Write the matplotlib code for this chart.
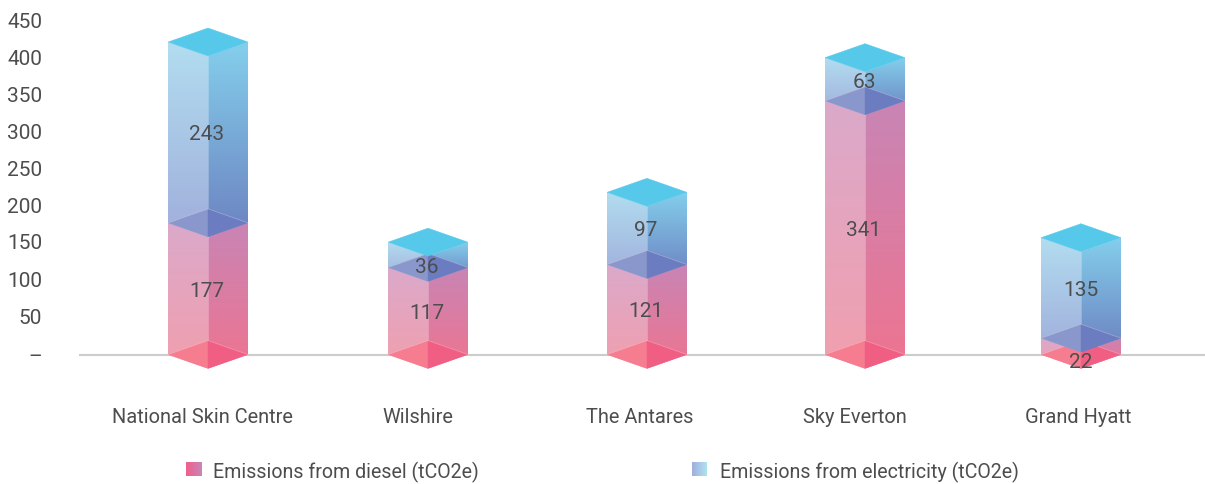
import numpy as np
import matplotlib
matplotlib.use("Agg")
import matplotlib.pyplot as plt
from matplotlib.patches import Polygon
from matplotlib.colors import to_rgb
from matplotlib.transforms import ScaledTranslation

categories = ["National Skin Centre", "Wilshire", "The Antares", "Sky Everton", "Grand Hyatt"]
diesel = [177, 117, 121, 341, 22]
electricity = [243, 36, 97, 63, 135]
# the drawn electricity segments (two differ from their printed labels)
electricity_drawn = [243, 34, 97, 58, 135]
y_ticks = [0, 50, 100, 150, 200, 250, 300, 350, 400, 450]
y_tick_labels = ["–", "50", "100", "150", "200", "250", "300", "350", "400", "450"]
series_names = ["Emissions from diesel (tCO2e)", "Emissions from electricity (tCO2e)"]

# layout (pixels of the 1205x485 figure)
W, H = 1205, 485
bar_x = [208, 428, 647, 865, 1081]
label_x = [202, 418, 639.5, 854.5, 1078.5]
half_w = 40
px_per_unit = 0.744
depth = 14 / px_per_unit
zero_px = 355.5
ax_top_px, ax_bot_px = 15, 385
value_dx = [-1, -1, -1, -1, 0]
diesel_label_py = [292, 314, 312, 231, 363]
elec_label_py = [135, 268, 231, 83, 291]
tick_label_up_px = [0, 2, 2, 2, 1, 1, 1, 0.5, 0, 0]

FONT = ["Roboto", "DejaVu Sans"]
TXT = "#4d4d4d"
FS_VAL = 15
FS_CAT = 14.4
FS_LEG = 14.1


def py_to_val(py):
    return (zero_px - py) / px_per_unit


plt.rcParams["font.family"] = FONT
fig = plt.figure(figsize=(W / 100, H / 100), dpi=100)
ax = fig.add_axes([79 / W, 1 - ax_bot_px / H, 1 - 79 / W, (ax_bot_px - ax_top_px) / H])
ax.set_xlim(79, W)
ax.set_ylim(py_to_val(ax_bot_px), py_to_val(ax_top_px))
ax.patch.set_alpha(0)
for s in ax.spines.values():
    s.set_visible(False)


def grad_face(pts, c_top, c_bot, z):
    pts = np.array(pts, float)
    x0, x1 = pts[:, 0].min(), pts[:, 0].max()
    y0, y1 = pts[:, 1].min(), pts[:, 1].max()
    ct, cb = np.array(to_rgb(c_top)), np.array(to_rgb(c_bot))
    t = np.linspace(0, 1, 128)[:, None, None]
    arr = ct[None, None, :] * (1 - t) + cb[None, None, :] * t
    im = ax.imshow(arr, extent=(x0, x1, y0, y1), origin="upper", aspect="auto",
                   zorder=z, interpolation="bilinear")
    poly = Polygon(pts, closed=True, transform=ax.transData, fc="none", ec="none")
    ax.add_patch(poly)
    im.set_clip_path(poly)


def flat(pts, c, z):
    ax.add_patch(Polygon(pts, closed=True, fc=c, ec=c, lw=0.3, zorder=z, clip_on=False))


def box(x, b, t, left, right, floor_l, floor_r, z):
    l, r = x - half_w, x + half_w
    grad_face([(l, b), (x, b - depth), (x, t - depth), (l, t)], left[0], left[1], z)
    grad_face([(x, b - depth), (r, b), (r, t), (x, t - depth)], right[0], right[1], z)
    ax.plot([x, x], [b - depth, t - depth], color="white", alpha=0.25, lw=0.7, zorder=z + 0.1)
    flat([(l, b), (x, b + depth), (x, b - depth)], floor_l, z + 0.2)
    flat([(x, b + depth), (r, b), (x, b - depth)], floor_r, z + 0.2)
    for p, q in [((l, b), (x, b + depth)), ((x, b + depth), (r, b))]:
        ax.plot(*zip(p, q), color="white", alpha=0.3, lw=0.6, zorder=z + 0.3)


ax.axhline(0, color="#cccccc", lw=1.5, zorder=1)
for i, x in enumerate(bar_x):
    d, e = diesel[i], electricity_drawn[i]
    box(x, 0, d, ("#dba9ca", "#f19fae"), ("#c885b5", "#ee7490"), "#f67c90", "#f05f83", 3)
    box(x, d, d + e, ("#b2ddf0", "#a0aedb"), ("#84cfec", "#6c82c1"), "#8a97cc", "#6b7cc0", 4)
    flat([(x - half_w, d + e), (x, d + e + depth), (x + half_w, d + e), (x, d + e - depth)], "#56c9ea", 5)
    ax.text(x + value_dx[i], py_to_val(diesel_label_py[i]), str(diesel[i]), ha="center", va="center",
            color=TXT, fontsize=FS_VAL, zorder=6)
    ax.text(x + value_dx[i], py_to_val(elec_label_py[i]), str(electricity[i]), ha="center", va="center",
            color=TXT, fontsize=FS_VAL, zorder=6)

ax.set_xticks(label_x)
ax.set_xticklabels(categories, fontsize=FS_CAT, color=TXT)
ax.set_yticks(y_ticks)
ax.set_yticklabels(y_tick_labels, fontsize=FS_VAL, color=TXT)
ax.tick_params(axis="x", length=0, pad=(408 - ax_bot_px) * 0.72)
ax.tick_params(axis="y", length=0, pad=(79 - 42) * 0.72)
for lab, up in zip(ax.get_yticklabels(), tick_label_up_px):
    lab.set_transform(lab.get_transform() + ScaledTranslation(0, up / 100, fig.dpi_scale_trans))

# legend
swatches = [(186, "#f0608a", "#c885b8"), (692, "#a0aedc", "#b0e2f1")]
text_x = [213, 720]
for (sx, c0, c1), tx, name in zip(swatches, text_x, series_names):
    sw = fig.add_axes([sx / W, 1 - 477 / H, 15 / W, 14 / H])
    t = np.linspace(0, 1, 32)[None, :, None]
    sw.imshow(np.array(to_rgb(c0))[None, None, :] * (1 - t) + np.array(to_rgb(c1))[None, None, :] * t,
              aspect="auto")
    sw.axis("off")
    fig.text(tx / W, 1 - 472 / H, name, ha="left", va="center", color=TXT, fontsize=FS_LEG)

fig.savefig("out.png", dpi=100)
